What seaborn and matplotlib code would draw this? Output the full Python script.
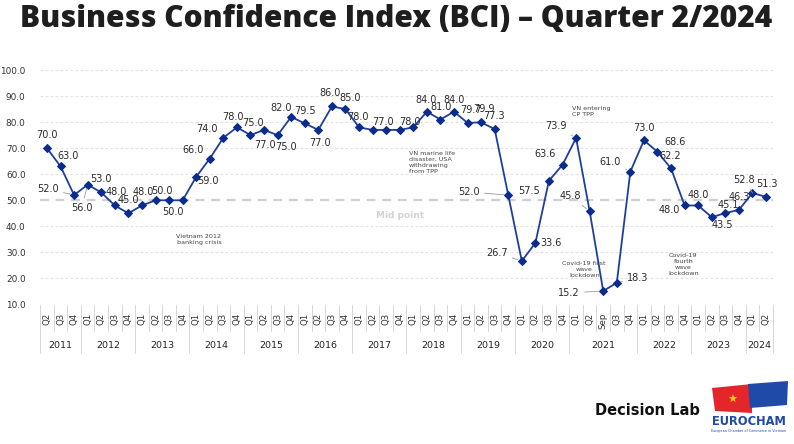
import numpy as np
import pandas as pd
import matplotlib
matplotlib.use("Agg")
import matplotlib.pyplot as plt
import matplotlib.transforms as mtransforms
from matplotlib.patches import Polygon
import seaborn as sns

# ---------------- data ----------------
years = (["2011"] * 3 + ["2012"] * 4 + ["2013"] * 4 + ["2014"] * 4 + ["2015"] * 4 +
         ["2016"] * 4 + ["2017"] * 4 + ["2018"] * 4 + ["2019"] * 4 + ["2020"] * 4 +
         ["2021"] * 5 + ["2022"] * 4 + ["2023"] * 4 + ["2024"] * 2)
quarters = (["Q2", "Q3", "Q4"] + ["Q1", "Q2", "Q3", "Q4"] * 9 +
            ["Q1", "Q2", "Sep", "Q3", "Q4"] + ["Q1", "Q2", "Q3", "Q4"] * 2 + ["Q1", "Q2"])
bci = [70.0, 63.0, 52.0,
       56.0, 53.0, 48.0, 45.0,
       48.0, 50.0, 50.0, 50.0,
       59.0, 66.0, 74.0, 78.0,
       75.0, 77.0, 75.0, 82.0,
       79.5, 77.0, 86.0, 85.0,
       78.0, 77.0, 77.0, 77.0,
       78.0, 84.0, 81.0, 84.0,
       79.7, 79.9, 77.3, 52.0,
       26.7, 33.6, 57.5, 63.6,
       73.9, 45.8, 15.2, 18.3, 61.0,
       73.0, 68.6, 62.2, 48.0,
       48.0, 43.5, 45.1, 46.3,
       52.8, 51.3]
shown_labels = [True] * len(bci)
for _i in (10, 25, 26):
    shown_labels[_i] = False

events = ["Vietnam 2012\nbanking crisis",
          "VN marine life\ndisaster, USA\nwithdrawing\nfrom TPP",
          "VN entering\nCP TPP",
          "Covid-19 first\nwave\nlockdown",
          "Covid-19\nfourth\nwave\nlockdown"]
midpoint = 50.0

# ---------------- label placement (pixels, image coords: +y = down) ----------------
offsets = [(0, -13), (8, -10), (-26, -6), (-6, 23), (0, -13), (1, -13), (0, -13),
           (1, -13), (6, -9), (4, 12), (0, 0), (12, 4), (-17, -9), (-16, -9), (-4, -10),
           (3, -12), (1, 15), (8, 12), (-10, -9), (0, -12), (2, 13), (-2, -13), (5, -11),
           (-1, -10), (10, -8), (0, 0), (0, 0), (-3, -5), (-1, -12), (1, -13), (0, -12),
           (3, -13), (3, -13), (-1, -13), (-39, -3), (-25, -8), (16, 0), (-20, 10),
           (-17, -11), (-20, -12), (-19, -15), (-34, 2), (21, -5), (-20, -10), (0, -12),
           (18, -10), (-1, -12), (-15, 5), (0, -10), (11, 8), (3, -8), (0, -13),
           (-8, -13), (1, -13)]
leaders = {2, 3, 34, 35, 39, 40, 41, 42, 43, 52}

# event text positions (x in data index, y in data value) and alignment
event_pos = [(11.2, 35.0, "center"), (26.7, 64.5, "left"), (38.7, 84.0, "left"),
             (39.6, 23.5, "center"), (46.9, 25.5, "center")]

# ---------------- figure ----------------
sns.set_theme(style="white")
plt.rcParams["font.family"] = ["DejaVu Sans"]

W, H = 794, 444
fig = plt.figure(figsize=(W / 100, H / 100), dpi=100)
fig.patch.set_facecolor("white")

ax_l, ax_r, ax_t, ax_b = 40.2, 772.8, 70.0, 304.5
ax = fig.add_axes([ax_l / W, 1 - ax_b / H, (ax_r - ax_l) / W, (ax_b - ax_t) / H])

df = pd.DataFrame({"idx": np.arange(len(bci)), "year": years, "quarter": quarters, "bci": bci})

line_col = "#1f3f9c"
sns.lineplot(data=df, x="idx", y="bci", ax=ax, color=line_col, lw=1.3,
             marker="D", markersize=4.2, markerfacecolor="#0b2c8c",
             markeredgecolor="#0b2c8c", zorder=5)

ax.set_xlim(-0.5, len(bci) - 0.5)
ax.set_ylim(10, 100)
yt = np.arange(10, 101, 10)
ax.set_yticks(yt)
ax.set_yticklabels([f"{v:.1f}" for v in yt], fontsize=6.4, color="#333333")
for v in yt[1:]:
    if v == midpoint:
        continue
    ax.axhline(v, color="#e2e2e2", lw=0.8, ls=(0, (2.5, 2)), zorder=1)
ax.axhline(midpoint, color="#cfcfcf", lw=1.6, ls=(0, (4, 3)), zorder=1)
ax.text(26.0, 44.2, "Mid point", fontsize=6.5, fontweight="bold", color="#d2d2d2",
        ha="center", va="center")

ax.set_xticks(df["idx"])
ax.set_xticklabels(quarters, rotation=90, fontsize=6.2, color="#333333")
ax.tick_params(axis="x", length=0, pad=6)
ax.tick_params(axis="y", length=0, pad=10.5)
ax.set_xlabel("")
ax.set_ylabel("")
for s in ax.spines.values():
    s.set_visible(False)

# category separators
trans = mtransforms.blended_transform_factory(ax.transData, ax.transAxes)
h_ax = ax_b - ax_t
q_end = -(331 - ax_b) / h_ax
y_end = -(353 - ax_b) / h_ax
year_lab_y = -(345 - ax_b) / h_ax
n = len(bci)
boundaries = [-0.5] + [i - 0.5 for i in range(1, n) if years[i] != years[i - 1]] + [n - 0.5]
for i in range(n + 1):
    xb = i - 0.5
    is_year = xb in boundaries
    ax.plot([xb, xb], [0, y_end if is_year else q_end], transform=trans,
            color="#d6d6d6", lw=0.7, clip_on=False, zorder=1)
# year labels
for k in range(len(boundaries) - 1):
    a, b = boundaries[k], boundaries[k + 1]
    ax.text((a + b) / 2, year_lab_y, years[int(a + 0.5)], transform=trans,
            ha="center", va="center", fontsize=6.8, color="#222222")

# data labels
for i, (v, show) in enumerate(zip(bci, shown_labels)):
    if not show:
        continue
    dx, dy = offsets[i]
    kw = {}
    if i in leaders:
        kw["arrowprops"] = dict(arrowstyle="-", color="#9a9a9a", lw=0.6,
                                shrinkA=1, shrinkB=3)
    ax.annotate(f"{v:.1f}", xy=(i, v), xytext=(dx, -dy), textcoords="offset pixels",
                ha="center", va="center", fontsize=7.0, color="#2b2b2b", zorder=6, **kw)

# event annotations
for txt, (ex, ey, ha) in zip(events, event_pos):
    ax.text(ex, ey, txt, fontsize=4.6, color="#444444", ha=ha, va="center",
            linespacing=1.25, zorder=6)

# title
fig.text(20 / W, 1 - 19 / H, "Business Confidence Index (BCI) \u2013 Quarter 2/2024",
         fontsize=21.5, fontweight="heavy", family=["Open Sans", "DejaVu Sans"],
         color="#1e1e1e", ha="left", va="center")

# footer logos
fig.text(647 / W, 1 - 410 / H, "Decision Lab", fontsize=10.5, fontweight="bold",
         color="#111111", ha="center", va="center")
red = Polygon([(712 / W, 1 - 388 / H), (752 / W, 1 - 384 / H), (752 / W, 1 - 413 / H),
               (715 / W, 1 - 411 / H)], closed=True, transform=fig.transFigure,
              facecolor="#e4252b", edgecolor="none")
blue = Polygon([(748 / W, 1 - 384 / H), (788 / W, 1 - 381 / H), (787 / W, 1 - 405 / H),
                (750 / W, 1 - 408 / H)], closed=True, transform=fig.transFigure,
               facecolor="#1f4aa8", edgecolor="none")
fig.patches.extend([red, blue])
fig.text(732 / W, 1 - 400 / H, "\u2605", fontsize=8, color="#ffd21f", ha="center",
         va="center", family=["DejaVu Sans"])
fig.text(749 / W, 1 - 421 / H, "EUROCHAM", fontsize=8.3, fontweight="bold",
         color="#1f4aa8", ha="center", va="center")
fig.text(749 / W, 1 - 431 / H, "European Chamber of Commerce in Vietnam", fontsize=2.4,
         color="#1f4aa8", ha="center", va="center")

fig.savefig("out.png", dpi=100, facecolor="white")
